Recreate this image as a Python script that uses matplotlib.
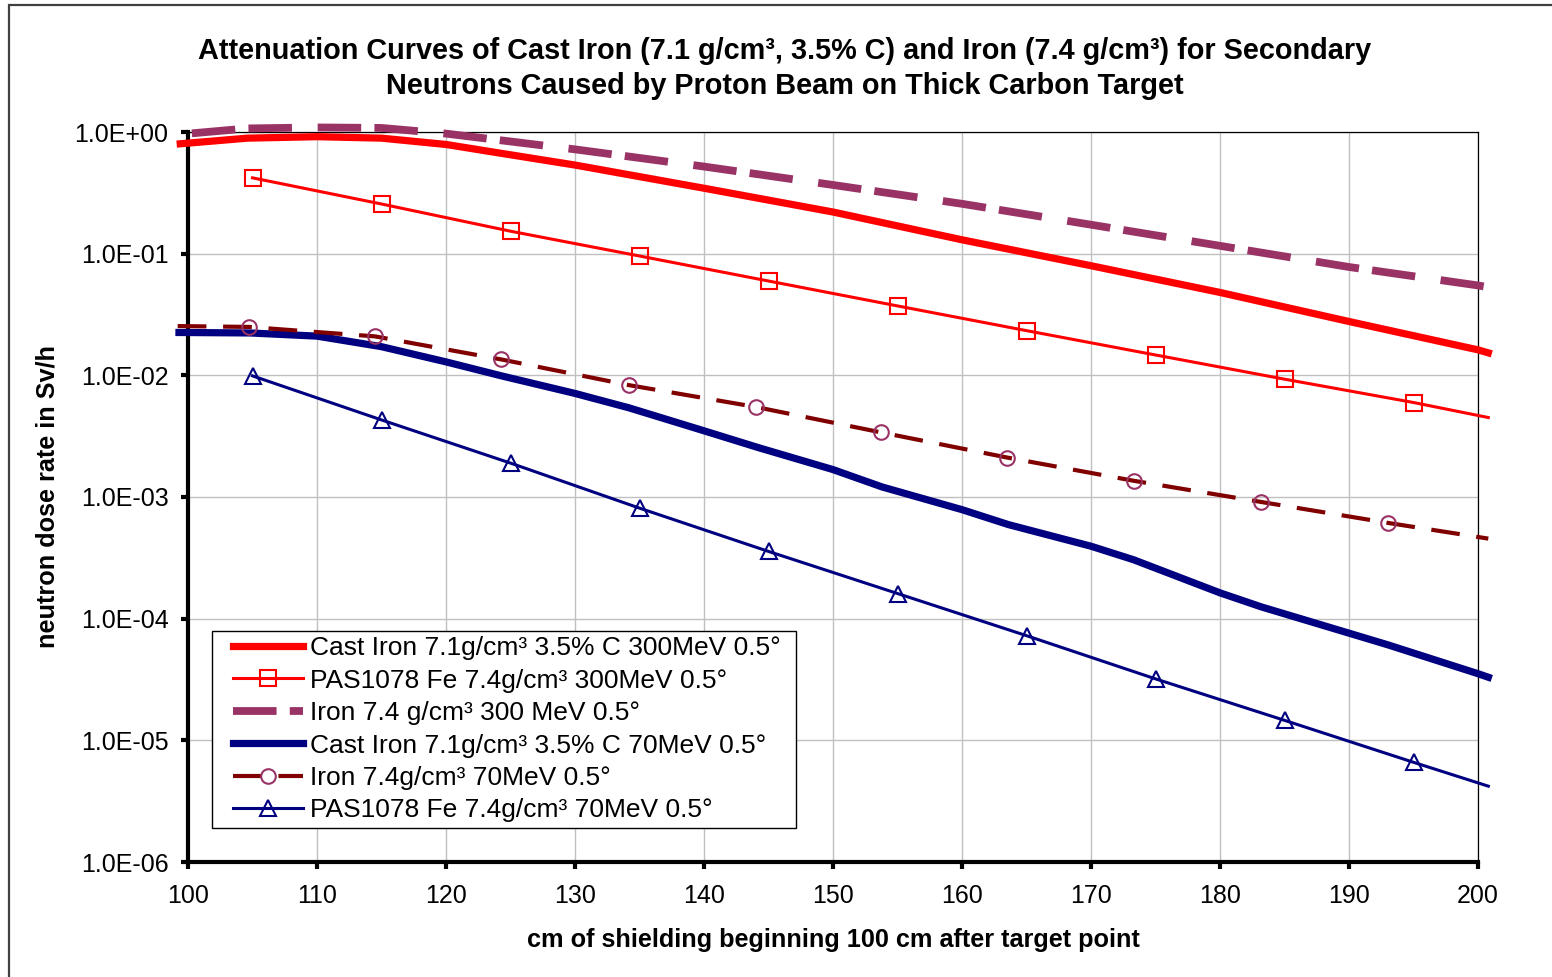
import matplotlib
matplotlib.use("Agg")
import matplotlib.pyplot as plt
from matplotlib.patches import Rectangle
from matplotlib.ticker import FixedLocator, FuncFormatter

plt.rcParams["font.family"] = ["Liberation Sans", "DejaVu Sans"]

# cast iron 7.1 g/cm3, 300 MeV (smooth curve)
cast300_x = [99.4, 104.6, 110, 115, 120, 124.2, 130, 140, 150, 160, 170, 180, 190, 200, 200.8]
cast300_y = [0.80, 0.89, 0.915, 0.89, 0.79, 0.67, 0.535, 0.345, 0.22, 0.130, 0.0796, 0.048,
             0.0277, 0.0162, 0.0153]

# PAS1078 Fe 300 MeV
pas300_x = [105, 115, 125, 135, 145, 155, 165, 175, 185, 195, 200.8]
pas300_y = [0.42, 0.256, 0.153, 0.0957, 0.0596, 0.0372, 0.0233, 0.0147, 0.0093, 0.00598, 0.0045]

# iron 7.4 g/cm3, 300 MeV
iron300_x = [100.3, 104.6, 110, 115, 120, 130, 140, 150, 160, 170, 180, 190, 200, 200.8]
iron300_y = [0.975, 1.07, 1.09, 1.08, 0.97, 0.72, 0.52, 0.367, 0.257, 0.173, 0.116, 0.0777,
             0.0548, 0.053]

# cast iron 70 MeV
cast70_x = [99.3, 104.8, 110, 115, 120, 124.3, 130, 134.2, 140, 144.3, 150, 153.8, 160, 163.6,
            170, 173.3, 180, 183.2, 190, 193, 200, 200.8]
cast70_y = [0.0225, 0.0223, 0.021, 0.0172, 0.0129, 0.0099, 0.0071, 0.0054, 0.0035, 0.00253,
            0.00168, 0.00121, 0.000787, 0.000593, 0.000394, 0.000305, 0.000163, 0.000125,
            7.6e-5, 6.1e-5, 3.53e-5, 3.3e-5]

# iron 7.4 g/cm3, 70 MeV
iron70_x = [99.2, 104.7, 114.5, 124.3, 134.2, 144, 153.7, 163.5, 173.3, 183.2, 193, 200.8]
iron70_y = [0.0254, 0.0250, 0.0209, 0.0135, 0.0083, 0.0055, 0.0034, 0.00211, 0.00136, 0.00091,
            0.000613, 0.000455]

# PAS1078 Fe 70 MeV
pas70_x = [105, 115, 125, 135, 145, 155, 165, 175, 185, 195, 200.8]
pas70_y = [0.0099, 0.0043, 0.0019, 0.00081, 0.000357, 0.000161, 7.25e-5, 3.2e-5, 1.46e-5,
           6.6e-6, 4.2e-6]

labels = ["Cast Iron 7.1g/cm³ 3.5% C 300MeV 0.5°",
          "PAS1078 Fe 7.4g/cm³ 300MeV 0.5°",
          "Iron 7.4 g/cm³ 300 MeV 0.5°",
          "Cast Iron 7.1g/cm³ 3.5% C 70MeV 0.5°",
          "Iron 7.4g/cm³ 70MeV 0.5°",
          "PAS1078 Fe 7.4g/cm³ 70MeV 0.5°"]

W, H = 1552, 977
fig = plt.figure(figsize=(W / 100, H / 100), dpi=100)
ax = fig.add_axes([188 / W, 1 - 862 / H, 1290 / W, 730 / H])

# outer chart border (cropped on right/bottom)
fig.patches.append(Rectangle((9 / W, -0.05), 1.2, 1 - 5 / H + 0.05, transform=fig.transFigure,
                             fill=False, edgecolor="#404040", linewidth=1.6))

h1, = ax.plot(cast300_x, cast300_y, color="#FF0000", lw=5.2, clip_on=False, zorder=3)
h2, = ax.plot(pas300_x, pas300_y, color="#FF0000", lw=2.2, marker="s", markersize=11,
              markerfacecolor="none", markeredgewidth=1.5, markevery=slice(0, 10),
              clip_on=False, zorder=4)
h3, = ax.plot(iron300_x, iron300_y, color="#993366", lw=5.6,
              linestyle=(0, (5.6, 1.7, 5.6, 3.3)), clip_on=False, zorder=5)
h4, = ax.plot(cast70_x, cast70_y, color="#000080", lw=5.2, clip_on=False, zorder=3)
h5, = ax.plot(iron70_x, iron70_y, color="#800000", lw=3.0, linestyle=(0, (6.9, 4.0)),
              marker="o", markersize=10.5, markerfacecolor="none", markeredgecolor="#993366",
              markeredgewidth=1.5, markevery=slice(1, 11), clip_on=False, zorder=5)
h6, = ax.plot(pas70_x, pas70_y, color="#000080", lw=2.2, marker="^", markersize=11,
              markerfacecolor="none", markeredgewidth=1.5, markevery=slice(0, 10),
              clip_on=False, zorder=4)

ax.set_yscale("log")
ax.set_xlim(100, 200)
ax.set_ylim(1e-6, 1)
ax.xaxis.set_major_locator(FixedLocator(range(100, 201, 10)))
ax.yaxis.set_major_locator(FixedLocator([10.0 ** k for k in range(-6, 1)]))
ax.yaxis.set_minor_locator(FixedLocator([]))
ax.yaxis.set_major_formatter(FuncFormatter(lambda v, p: f"{v:.1E}"))
ax.grid(True, color="#c0c0c0", linewidth=1.0, zorder=0)
ax.set_axisbelow(True)

for s in ["left", "bottom"]:
    ax.spines[s].set_linewidth(3.0)
for s in ["top", "right"]:
    ax.spines[s].set_linewidth(0.9)
ax.tick_params(axis="both", direction="out", length=5, width=3, labelsize=18, color="black")
ax.tick_params(axis="y", pad=9)
ax.tick_params(axis="x", pad=11)

fig.text(785 / W, 1 - 68.5 / H, "Attenuation Curves of Cast Iron (7.1 g/cm³, 3.5% C) and Iron "
         "(7.4 g/cm³) for Secondary\nNeutrons Caused by Proton Beam on Thick Carbon Target",
         ha="center", va="center", fontsize=20.8, fontweight="bold", linespacing=1.36)
fig.text(833 / W, 1 - 940 / H, "cm of shielding beginning 100 cm after target point",
         ha="center", va="center", fontsize=18.2, fontweight="bold")
fig.text(48 / W, 1 - 497 / H, "neutron dose rate in Sv/h", ha="center", va="center",
         rotation=90, fontsize=18.2, fontweight="bold")

leg = ax.legend([h1, h2, h3, h4, h5, h6], labels, loc="upper left",
                bbox_to_anchor=((228 - 188) / 1290, (862 - 631) / 730), borderaxespad=0,
                fontsize=19, frameon=False, handlelength=2.65, handletextpad=0.27,
                labelspacing=0.32, borderpad=0.2)
leg.set_zorder(10)

# legend box: wider side padding than top/bottom, as in the original
fig.canvas.draw()
bb = leg.get_window_extent()
box = Rectangle((bb.x0 - 16, bb.y0), bb.width + 26, bb.height, transform=None,
                facecolor="white", edgecolor="black", linewidth=1.0, zorder=9)
ax.add_artist(box)
box.set_transform(None)
box.set_clip_on(False)

fig.savefig("out.png", dpi=100)
